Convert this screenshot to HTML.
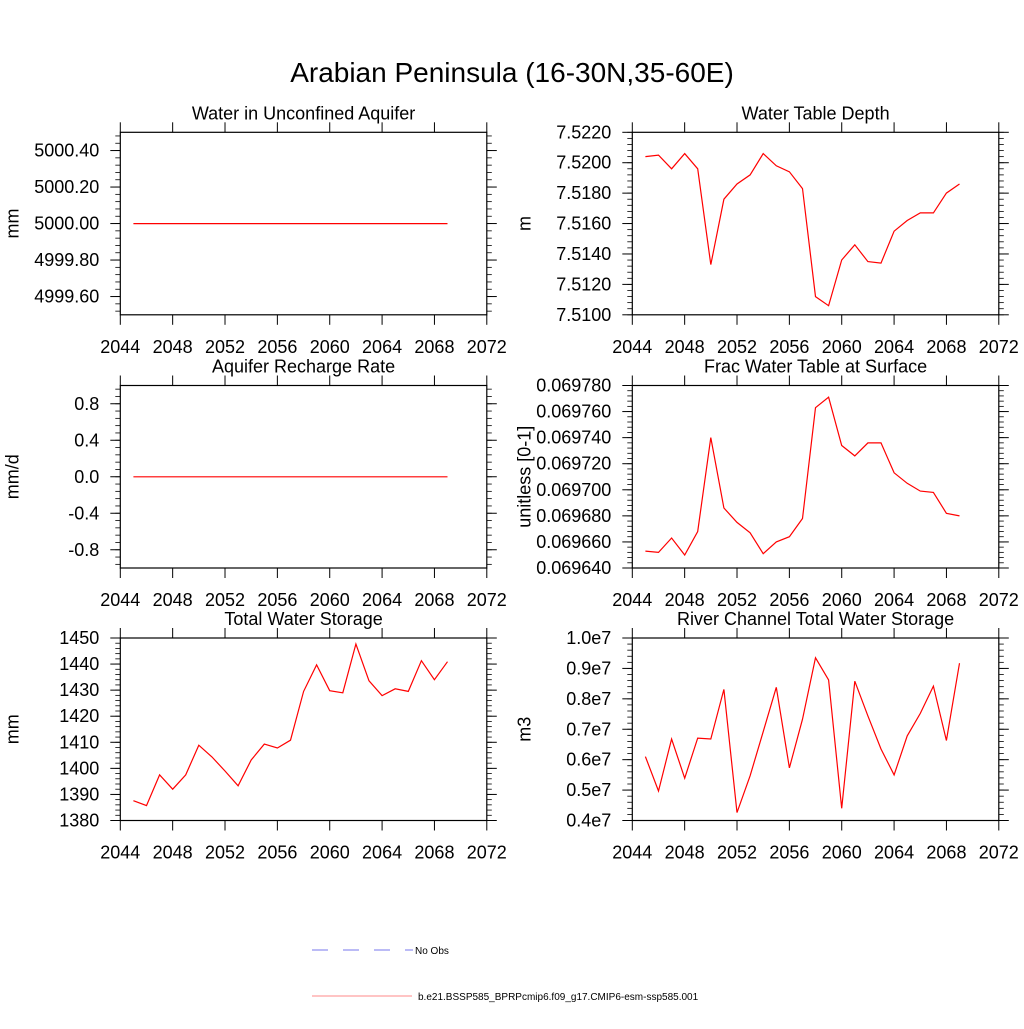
<!DOCTYPE html>
<html><head><meta charset="utf-8"><style>
html,body{margin:0;padding:0;background:#fff;}
svg text{font-family:"Liberation Sans",sans-serif;fill:#000;}
</style></head><body>
<svg id="c" width="1024" height="1024" xmlns="http://www.w3.org/2000/svg">
<text x="512" y="82" font-size="28" text-anchor="middle">Arabian Peninsula (16-30N,35-60E)</text>
<g>
<line x1="312" y1="950" x2="413" y2="950" stroke="#7777ee" stroke-width="1" stroke-dasharray="16,15"/>
<text x="415" y="954" font-size="10">No Obs</text>
<line x1="312" y1="996" x2="412" y2="996" stroke="#ff8888" stroke-width="1"/>
<text x="418" y="1000" font-size="10">b.e21.BSSP585_BPRPcmip6.f09_g17.CMIP6-esm-ssp585.001</text>
</g>
</svg>
<script>
const years = [2045,2046,2047,2048,2049,2050,2051,2052,2053,2054,2055,2056,2057,2058,2059,2060,2061,2062,2063,2064,2065,2066,2067,2068,2069];
const xTicks = [2044,2048,2052,2056,2060,2064,2068,2072];
const aquiferVals = years.map(()=>5000.0);
const rechargeVals = years.map(()=>0.0);
const wtdVals = [7.5204,7.5205,7.5196,7.5206,7.5196,7.5133,7.5176,7.5186,7.5192,7.5206,7.5198,7.5194,7.5183,7.5112,7.5106,7.5136,7.5146,7.5135,7.5134,7.5155,7.5162,7.5167,7.5167,7.5180,7.5186];
const fracVals = [0.069653,0.069652,0.069663,0.069650,0.069668,0.069740,0.069686,0.069675,0.069667,0.069651,0.069660,0.069664,0.069678,0.069763,0.069771,0.069734,0.069726,0.069736,0.069736,0.069713,0.069705,0.069699,0.069698,0.069682,0.069680];
const twsVals = [1387.6,1385.7,1397.5,1392,1397.5,1408.9,1404.4,1399,1393.3,1403.2,1409.3,1407.8,1410.8,1429.5,1439.7,1429.8,1429,1447.7,1433.6,1427.9,1430.5,1429.5,1441.3,1434,1440.9];
const riverVals = [0.610,0.497,0.668,0.539,0.671,0.668,0.831,0.426,0.547,0.692,0.838,0.573,0.733,0.935,0.862,0.440,0.858,0.744,0.635,0.550,0.678,0.752,0.842,0.663,0.917];
const aquiferTicks = [4999.6,4999.8,5000.0,5000.2,5000.4];
const aquiferLabels = ["4999.60","4999.80","5000.00","5000.20","5000.40"];
const rechargeTicks = [-0.8,-0.4,0,0.4,0.8];
const rechargeLabels = ["-0.8","-0.4","0.0","0.4","0.8"];
const wtdTicks = [7.510,7.512,7.514,7.516,7.518,7.520,7.522];
const wtdLabels = ["7.5100","7.5120","7.5140","7.5160","7.5180","7.5200","7.5220"];
const fracTicks = [0.06964,0.06966,0.06968,0.06970,0.06972,0.06974,0.06976,0.06978];
const fracLabels = ["0.069640","0.069660","0.069680","0.069700","0.069720","0.069740","0.069760","0.069780"];
const twsTicks = [1380,1390,1400,1410,1420,1430,1440,1450];
const twsLabels = ["1380","1390","1400","1410","1420","1430","1440","1450"];
const riverTicks = [0.4,0.5,0.6,0.7,0.8,0.9,1.0];
const riverLabels = ["0.4e7","0.5e7","0.6e7","0.7e7","0.8e7","0.9e7","1.0e7"];

const svg = document.getElementById('c');
const NS = 'http://www.w3.org/2000/svg';
function mk(tag, attrs, parent){const e=document.createElementNS(NS,tag);for(const k in attrs)e.setAttribute(k,attrs[k]);(parent||svg).appendChild(e);return e;}

function panel(id, L, T, title, ytitle, vals, yTicks, yLabels, ymin, ymax){
  const R = L+366.5, B = T+182.5;
  const g = mk('g',{});
  
  
  const xs = v => L + (v-2044)/(2072-2044)*(R-L);
  const ys = v => B - (v-ymin)/(ymax-ymin)*(B-T);
  const fr = mk('rect',{x:L,y:T,width:R-L,height:B-T,fill:'none',stroke:'#000','stroke-width':1.2},g);
  
  
  xTicks.forEach(t=>{
    const x = xs(t);
    mk('line',{x1:x,y1:B,x2:x,y2:B+10,stroke:'#000','stroke-width':1},g);
    mk('line',{x1:x,y1:T,x2:x,y2:T-10,stroke:'#000','stroke-width':1},g);
    const tx = mk('text',{x:x,y:B+38,'font-size':18,'text-anchor':'middle'},g);
    
    
    tx.textContent = t;
  });
  const step = yTicks[1]-yTicks[0];
  for(let v=yTicks[0]-step; v<=ymax+1e-12; v+=step/5){
    if(v<ymin-1e-12) continue;
    const y = ys(v);
    mk('line',{x1:L,y1:y,x2:L-5,y2:y,stroke:'#000','stroke-width':0.8},g);
    mk('line',{x1:R,y1:y,x2:R+5,y2:y,stroke:'#000','stroke-width':0.8},g);
  }
  yTicks.forEach((t,i)=>{
    const y = ys(t);
    mk('line',{x1:L,y1:y,x2:L-10,y2:y,stroke:'#000','stroke-width':1},g);
    mk('line',{x1:R,y1:y,x2:R+10,y2:y,stroke:'#000','stroke-width':1},g);
    const tx = mk('text',{x:L-21,y:y+6,'font-size':18,'text-anchor':'end'},g);
    
    
    tx.textContent = yLabels[i];
  });
  const tt = mk('text',{x:(L+R)/2,y:T-13,'font-size':18,'text-anchor':'middle'},g);
  
  
  tt.textContent = title;
  const yt = mk('text',{x:0,y:0,'font-size':18,'text-anchor':'middle',transform:`translate(${L-102},${(T+B)/2}) rotate(-90)`},g);
  
  
  yt.textContent = ytitle;
  const pts = years.map((yr,i)=>xs(yr).toFixed(1)+','+ys(vals[i]).toFixed(1)).join(' ');
  const pl = mk('polyline',{points:pts,fill:'none',stroke:'#ff0000','stroke-width':1.2},g);
  
  
}
panel('aquifer',120.3,132.3,'Water in Unconfined Aquifer','mm',aquiferVals,aquiferTicks,aquiferLabels,4999.5,5000.5);
panel('water-table-depth',632.3,132.3,'Water Table Depth','m',wtdVals,wtdTicks,wtdLabels,7.510,7.522);
panel('recharge',120.3,385.5,'Aquifer Recharge Rate','mm/d',rechargeVals,rechargeTicks,rechargeLabels,-1,1);
panel('frac-water-table',632.3,385.5,'Frac Water Table at Surface','unitless [0-1]',fracVals,fracTicks,fracLabels,0.06964,0.06978);
panel('total-water-storage',120.3,638,'Total Water Storage','mm',twsVals,twsTicks,twsLabels,1380,1450);
panel('river-storage',632.3,638,'River Channel Total Water Storage','m3',riverVals,riverTicks,riverLabels,0.4,1.0);
</script>
</body></html>
